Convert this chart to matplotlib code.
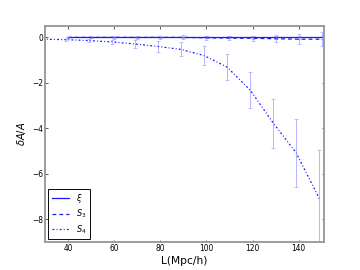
import numpy as np
import matplotlib
matplotlib.use('Agg')
import matplotlib.pyplot as plt

plt.rcParams['lines.scale_dashes'] = False

# scales (Mpc/h)
L = np.array([40, 50, 60, 70, 80, 90, 100, 110, 120, 130, 140, 150])
L4 = np.array([29, 39, 49, 59, 69, 79, 89, 99, 109, 119, 129, 139, 149])

# relative change dA/A for each statistic
xi = np.array([0.0, 0.0, 0.0, 0.0, 0.0, 0.0, 0.0, 0.0, 0.0, 0.0, 0.0, 0.0])
xi_err = np.array([0.02, 0.02, 0.02, 0.03, 0.03, 0.03, 0.04, 0.04, 0.05, 0.05, 0.06, 0.07])
s3 = np.array([0.0, 0.0, 0.0, 0.0, 0.0, 0.0, -0.02, -0.03, -0.04, -0.06, -0.08, -0.08])
s3_err = np.array([0.03, 0.04, 0.05, 0.06, 0.07, 0.09, 0.1, 0.1, 0.12, 0.16, 0.22, 0.3])
s4 = np.array([-0.08, -0.1, -0.14, -0.2, -0.29, -0.4, -0.53, -0.8, -1.31, -2.32, -3.77, -5.09, -7.1])
s4_err = np.array([0.04, 0.05, 0.08, 0.1, 0.17, 0.24, 0.31, 0.4, 0.56, 0.78, 1.08, 1.48, 2.15])

fig = plt.figure(figsize=(8, 6), dpi=45)
ax = fig.add_axes([0.125, 0.1037, 0.775, 0.8])

ax.plot(L, xi, '-', color='#1a1aff', lw=2, label=r'$\xi$')
ax.errorbar(L, xi, yerr=xi_err, fmt='none', ecolor='#8888ff', alpha=0.8, capsize=3, elinewidth=1.2)
ax.plot(L, s3, color='#1a1aff', lw=2, dashes=[6, 5], label=r'$S_3$')
ax.errorbar(L, s3, yerr=s3_err, fmt='none', ecolor='#8888ff', alpha=0.8, capsize=3, elinewidth=1.2)
ax.plot(L4, s4, color='#1a1aff', lw=2, dashes=[3, 3.5, 1.5, 3.5], label=r'$S_4$')
ax.errorbar(L4[1:], s4[1:], yerr=s4_err[1:], fmt='none', ecolor='#8888ff', alpha=0.8, capsize=3, elinewidth=1.2)

ax.set_xlim(30, 151)
ax.set_ylim(-9, 0.5)
ax.set_xticks([40, 60, 80, 100, 120, 140])
ax.set_yticks([0, -2, -4, -6, -8])
ax.set_yticklabels(['0', '\u22122', '\u22124', '\u22126', '\u22128'])
ax.tick_params(direction='in', length=4, labelsize=12, top=True, right=True, width=1)
for sp in ax.spines.values():
    sp.set_color('#999999')
    sp.set_linewidth(3)

ax.set_xlabel('L(Mpc/h)', fontsize=17)
ax.set_ylabel(r'$\delta A/A$', fontsize=16, labelpad=6)

leg = ax.legend(loc='lower left', fontsize=13, fancybox=False, framealpha=1,
                handlelength=2.2, handletextpad=0.8, borderpad=0.4,
                labelspacing=0.35, borderaxespad=0.4)
leg.get_frame().set_edgecolor('black')
leg.get_frame().set_linewidth(1.5)

fig.savefig('out.png', dpi=45)
